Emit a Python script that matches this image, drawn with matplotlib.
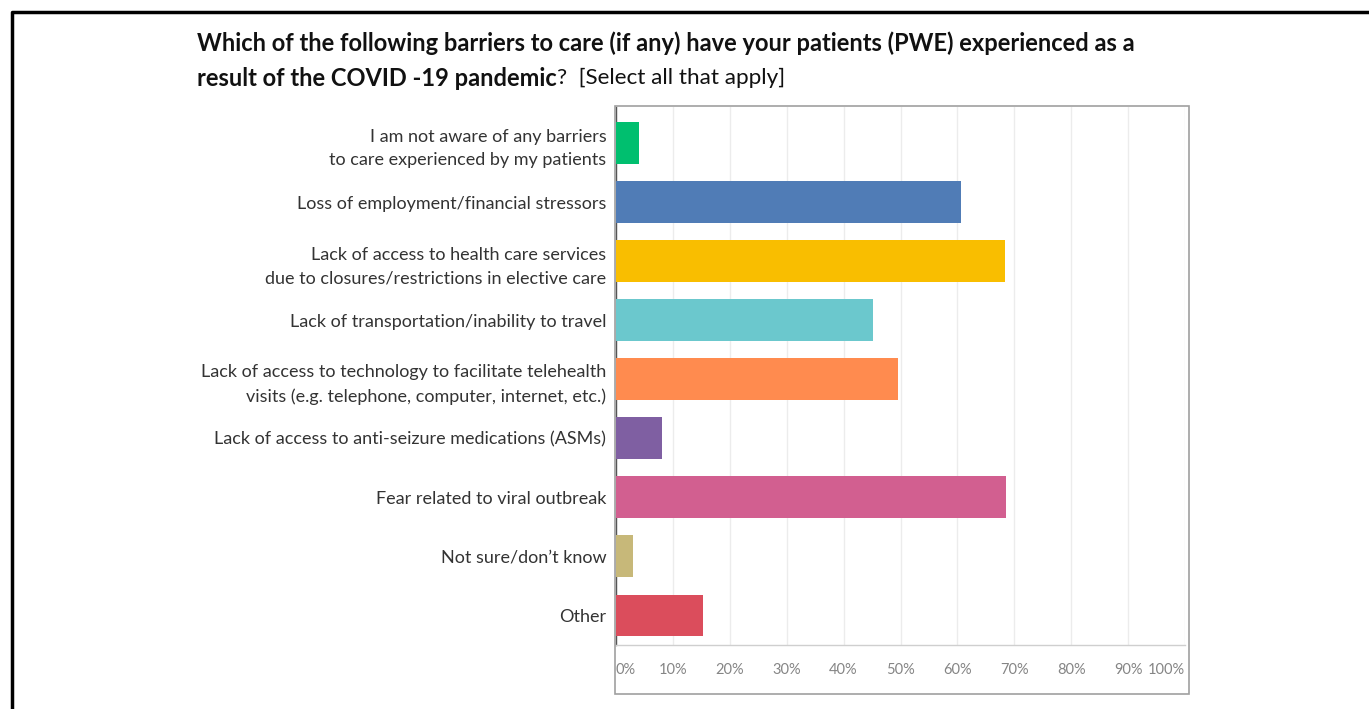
import matplotlib
matplotlib.use("Agg")
import matplotlib.pyplot as plt
from matplotlib.patches import Rectangle
from matplotlib.lines import Line2D

plt.rcParams['font.family'] = ['Lato', 'DejaVu Sans']

categories = [
    "I am not aware of any barriers\nto care experienced by my patients",
    "Loss of employment/financial stressors",
    "Lack of access to health care services\ndue to closures/restrictions in elective care",
    "Lack of transportation/inability to travel",
    "Lack of access to technology to facilitate telehealth\nvisits (e.g. telephone, computer, internet, etc.)",
    "Lack of access to anti-seizure medications (ASMs)",
    "Fear related to viral outbreak",
    "Not sure/don\u2019t know",
    "Other",
]
percent = [4.1, 60.6, 68.3, 45.2, 49.5, 8.1, 68.5, 3.0, 15.3]
colors = ['#00BF6F', '#507CB6', '#F9BE00', '#6BC8CD', '#FF8B4F',
          '#7F5FA2', '#D25F90', '#C7B879', '#DB4D5C']
tick_vals = list(range(0, 101, 10))
tick_labels = [f"{v}%" for v in tick_vals]

W, H = 1369, 709
fig = plt.figure(figsize=(W / 100, H / 100), dpi=100)

def fx(px):
    return px / W

def fy(py):
    return 1 - py / H

# black frame around the whole figure
frame = Line2D([fx(12), fx(12), fx(W + 5)], [fy(H + 5), fy(12), fy(12)],
               transform=fig.transFigure, color='black', lw=2.5)
fig.add_artist(frame)

# grey box around the plot
box = Rectangle((fx(615), fy(694)), fx(1189) - fx(615), fy(106) - fy(694),
                transform=fig.transFigure, fill=False, ec='#a0a0a0', lw=1.2)
fig.add_artist(box)

# plot area: x from 616 to 1185, y from 107 to 645
ax = fig.add_axes([fx(616), fy(645), fx(1185) - fx(616), fy(107) - fy(645)])
ypos = list(range(len(categories)))
ax.barh(ypos, percent, height=0.71, color=colors, zorder=3)
ax.set_ylim(8.5, -0.5 - (143 - 107 - 29.5) / 59)
ax.set_xlim(0, 100)

ax.set_xticks(tick_vals)
ax.set_xticklabels(tick_labels, fontsize=10.5, color='#858585')
ax.tick_params(axis='x', length=0, pad=13)
ax.grid(axis='x', color='#ececec', lw=1, zorder=0)
labels = ax.get_xticklabels()
labels[0].set_ha('left')
labels[-1].set_ha('right')

ax.set_yticks(ypos)
ax.set_yticklabels(categories, fontsize=13, color='#333333', linespacing=1.6)
ax.tick_params(axis='y', length=0, pad=7)

for side in ['top', 'right']:
    ax.spines[side].set_visible(False)
ax.spines['left'].set_color('#555555')
ax.spines['left'].set_linewidth(1)
ax.spines['bottom'].set_color('#cfcfcf')
ax.spines['bottom'].set_linewidth(1)

# question title, two lines, second line partly regular
t1 = fig.text(fx(197), fy(43), "Which of the following barriers to care (if any) have your patients (PWE) experienced as a",
              fontsize=17, fontweight='bold', color='#111111', va='center', ha='left')
t2 = fig.text(fx(197), fy(78), "result of the COVID -19 pandemic",
              fontsize=17, fontweight='bold', color='#111111', va='center', ha='left')
fig.canvas.draw()
bb = t2.get_window_extent()
fig.text(bb.x1 / W, fy(78), "?  [Select all that apply]",
         fontsize=16.2, color='#111111', va='center', ha='left')

fig.savefig("out.png", dpi=100)
